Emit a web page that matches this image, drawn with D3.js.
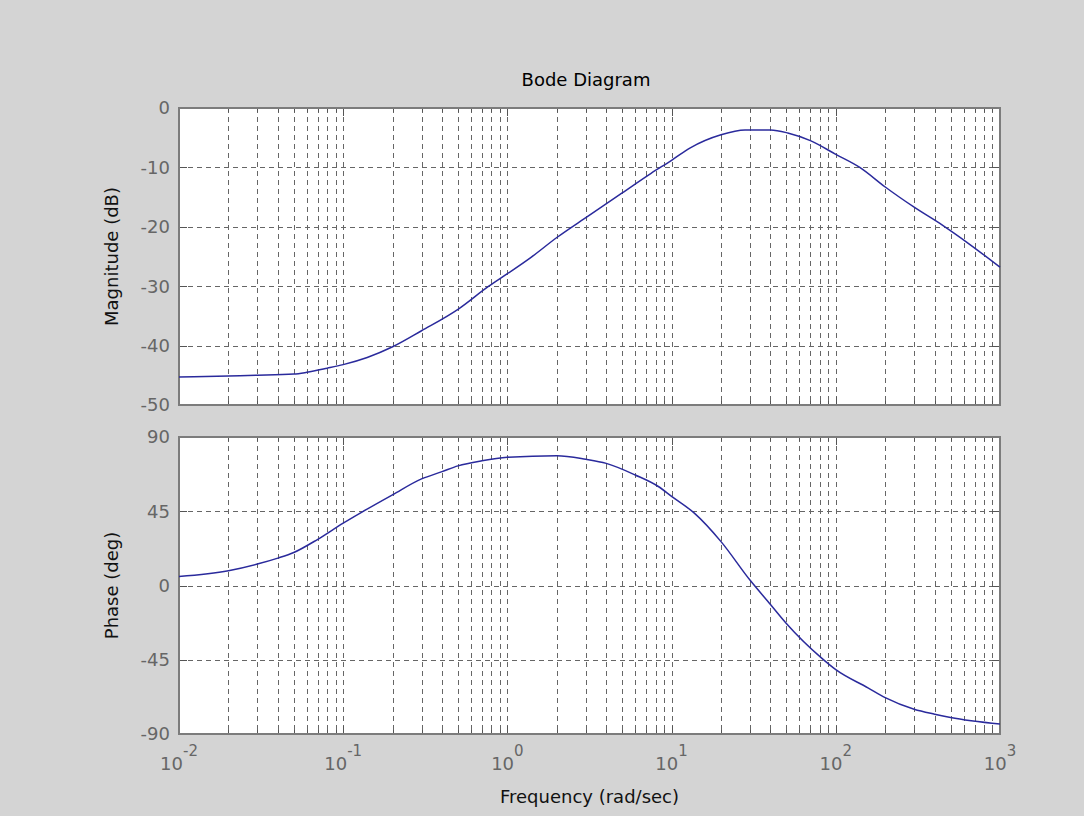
<!DOCTYPE html>
<html>
<head>
<meta charset="utf-8">
<script src="https://cdn.jsdelivr.net/npm/d3@7"></script>
<style>
body { margin: 0; background: #d4d4d4; }
svg { display: block; }
text { font-family: "DejaVu Sans", sans-serif; }
</style>
</head>
<body>
<svg id="chart" width="1084" height="816"></svg>
<script>
// values
var magFreq = [0.01, 0.02, 0.03, 0.05, 0.06, 0.08, 0.1, 0.14, 0.2, 0.3, 0.5, 0.77, 1.0, 1.4, 2.0, 3.1, 5.0, 7.5, 10, 13, 20, 28, 40, 51, 70, 100, 140, 200, 300, 450, 650, 1000];
var magDb = [-45.3, -45.1, -45.0, -44.8, -44.5, -43.8, -43.2, -42.0, -40.2, -37.5, -33.9, -30.0, -27.9, -25.1, -21.8, -18.2, -14.3, -11.0, -8.8, -6.7, -4.5, -3.7, -3.7, -4.2, -5.5, -7.8, -10.0, -13.3, -16.7, -19.8, -22.9, -26.8];
var phaseFreq = [0.01, 0.02, 0.03, 0.04, 0.05, 0.07, 0.1, 0.13, 0.2, 0.3, 0.4, 0.5, 0.7, 1.0, 2.0, 3.0, 4.0, 6.0, 8.3, 10, 13.7, 20, 30, 40, 50, 82, 100, 157, 200, 300, 400, 500, 1000];
var phaseDeg = [5.5, 9, 13, 16.6, 20, 28, 37.8, 44.5, 55, 64.6, 69, 72.5, 75.6, 77.7, 78.7, 76.5, 74, 67, 60, 54, 44, 26.6, 3.3, -11.5, -23, -44, -51, -62, -68, -75, -78, -80, -84];
var magTicks = [0, -10, -20, -30, -40, -50];
var phaseTicks = [90, 45, 0, -45, -90];
var decades = [-2, -1, 0, 1, 2, 3];

var svg = d3.select("#chart");
var left = 179, right = 1000;
var x = d3.scaleLog().domain([0.01, 1000]).range([left, right]);
var yMag = d3.scaleLinear().domain([-50, 0]).range([405, 108]);
var yPhase = d3.scaleLinear().domain([-90, 90]).range([734, 437]);

var majors = decades.map(function(d) { return Math.pow(10, d); });
var minors = [];
decades.slice(0, -1).forEach(function(d) {
    for (var k = 2; k <= 9; k++) minors.push(k * Math.pow(10, d));
});

var gridColor = "#666";
var boxColor = "#7c7c7c";

var drawPanel = function(y, ticks, freqs, vals, label) {
    var g = svg.append("g");
    var top = y.range()[1], bottom = y.range()[0];

    g.append("rect")
        .attr("x", left).attr("y", top)
        .attr("width", right - left).attr("height", bottom - top)
        .attr("fill", "#fff");

    // dashed grid, minor x grid too
    g.selectAll(".vgrid").data(majors.concat(minors)).enter().append("line")
        .attr("x1", function(d) { return Math.round(x(d)) + 0.5; })
        .attr("x2", function(d) { return Math.round(x(d)) + 0.5; })
        .attr("y1", top).attr("y2", bottom)
        .attr("stroke", gridColor).attr("stroke-width", 1)
        .attr("stroke-dasharray", "5,4");
    g.selectAll(".hgrid").data(ticks).enter().append("line")
        .attr("x1", left).attr("x2", right)
        .attr("y1", function(d) { return Math.round(y(d)) + 0.5; })
        .attr("y2", function(d) { return Math.round(y(d)) + 0.5; })
        .attr("stroke", gridColor).attr("stroke-width", 1)
        .attr("stroke-dasharray", "5,4");

    // inward ticks on all four sides
    var xt = majors.map(function(d) { return {v: d, len: 8}; })
        .concat(minors.map(function(d) { return {v: d, len: 4}; }));
    [[bottom, -1], [top, 1]].forEach(function(s) {
        g.selectAll(null).data(xt).enter().append("line")
            .attr("x1", function(d) { return Math.round(x(d.v)) + 0.5; })
            .attr("x2", function(d) { return Math.round(x(d.v)) + 0.5; })
            .attr("y1", s[0]).attr("y2", function(d) { return s[0] + s[1] * d.len; })
            .attr("stroke", "#555");
    });
    [[left, 1], [right, -1]].forEach(function(s) {
        g.selectAll(null).data(ticks).enter().append("line")
            .attr("y1", function(d) { return Math.round(y(d)) + 0.5; })
            .attr("y2", function(d) { return Math.round(y(d)) + 0.5; })
            .attr("x1", s[0]).attr("x2", s[0] + s[1] * 8)
            .attr("stroke", "#555");
    });

    g.append("rect")
        .attr("x", left).attr("y", top)
        .attr("width", right - left).attr("height", bottom - top)
        .attr("fill", "none").attr("stroke", boxColor).attr("stroke-width", 2);

    var line = d3.line()
        .x(function(d, i) { return x(freqs[i]); })
        .y(function(d) { return y(d); })
        .curve(d3.curveMonotoneX);
    g.append("path")
        .attr("d", line(vals))
        .attr("fill", "none")
        .attr("stroke", "#2a2a9c")
        .attr("stroke-width", 1.5);

    g.selectAll(".ylab").data(ticks).enter().append("text")
        .attr("x", 170)
        .attr("y", function(d) { return y(d); })
        .attr("dy", "0.36em")
        .attr("text-anchor", "end")
        .attr("fill", "#666")
        .attr("font-size", 18)
        .text(function(d) { return d; });

    svg.append("text")
        .attr("transform", "translate(118," + (top + bottom) / 2 + ") rotate(-90)")
        .attr("text-anchor", "middle")
        .attr("font-size", 18)
        .attr("fill", "#111")
        .text(label);
};

drawPanel(yMag, magTicks, magFreq, magDb, "Magnitude (dB)");
drawPanel(yPhase, phaseTicks, phaseFreq, phaseDeg, "Phase (deg)");

// x tick labels 10^n
var xl = svg.selectAll(".xlab").data(decades).enter().append("text")
    .attr("x", function(d) { return x(Math.pow(10, d)); })
    .attr("y", 770)
    .attr("text-anchor", "middle")
    .attr("fill", "#666")
    .attr("font-size", 18);
xl.append("tspan").text("10");
xl.append("tspan").attr("dy", -14).attr("font-size", 15).text(function(d) { return d; });

svg.append("text")
    .attr("x", 586).attr("y", 86)
    .attr("text-anchor", "middle")
    .attr("font-size", 18)
    .attr("fill", "#000")
    .text("Bode Diagram");

svg.append("text")
    .attr("x", (left + right) / 2).attr("y", 803)
    .attr("text-anchor", "middle")
    .attr("font-size", 18)
    .attr("fill", "#111")
    .text("Frequency (rad/sec)");
</script>
</body>
</html>
